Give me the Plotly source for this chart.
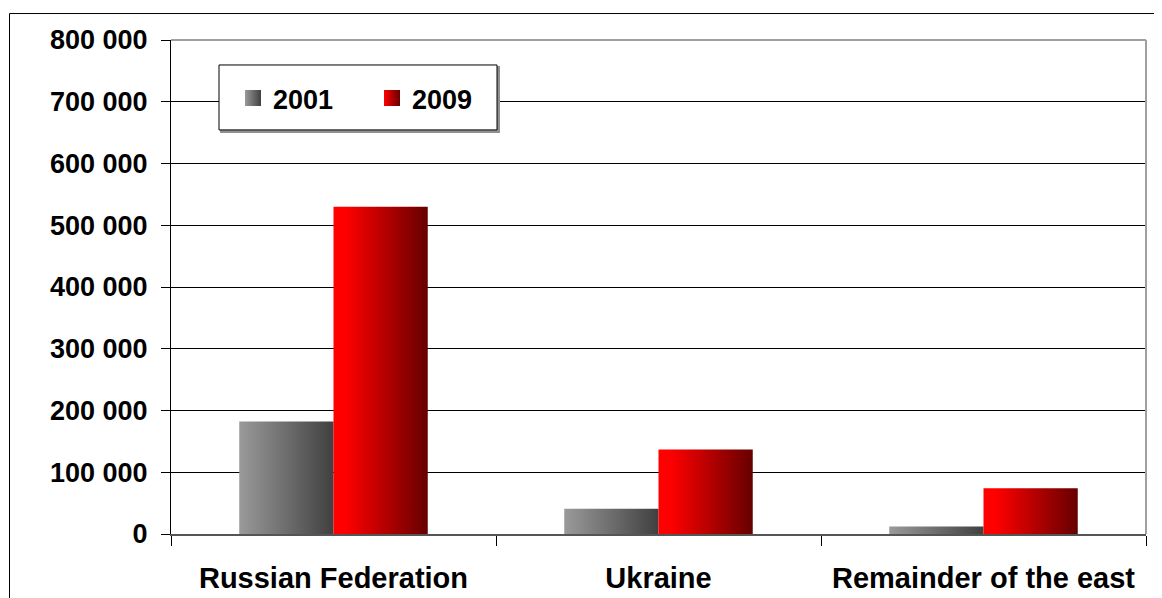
import plotly.graph_objects as go

categories = ["Russian Federation", "Ukraine", "Remainder of the east"]
series_names = ["2001", "2009"]
values_2001 = [182000, 41000, 12000]
values_2009 = [530000, 137000, 74000]
y_ticks = [0, 100000, 200000, 300000, 400000, 500000, 600000, 700000, 800000]

FONT = "Liberation Sans, Arial, sans-serif"
BAR_GAP = 0.42
bar_w = (1 - BAR_GAP) / 2

series = [
    (values_2001, "#9a9a9a", "#404040",
     [[0, "#9a9a9a"], [1, "#404040"]], -1),
    (values_2009, "#ff0000", "#660000",
     [[0, "#ff0000"], [0.12, "#ff0000"], [1, "#660000"]], 0),
]

fig = go.Figure()
for (vals, c0, c1, cs, off), name in zip(series, series_names):
    for i, v in enumerate(vals):
        left = i + off * bar_w
        right = left + bar_w
        fig.add_trace(go.Scatter(
            x=[left, left, right, right, left],
            y=[0, v, v, 0, 0],
            mode="lines", fill="toself",
            line=dict(width=0),
            fillgradient=dict(type="horizontal", colorscale=cs, start=left, stop=right),
            showlegend=False, hoverinfo="skip", name=name,
        ))
    fig.add_trace(go.Scatter(
        x=[None], y=[None], mode="markers", name=name,
        marker=dict(symbol="square", size=19, color=c0,
                    gradient=dict(type="horizontal", color=c1),
                    line=dict(width=0)),
    ))

# page body has an 8px margin; work in window pixels and convert
OFF = 8
W, H = 1162 - OFF, 598 - OFF
PL, PR, PT, PB = 171, 1146, 40, 534.5  # plot area in window px
L = PL - OFF
T = PT - OFF
R = W - (PR - OFF)
B = H - (PB - OFF)
pw, ph = W - L - R, H - T - B

def px_x(x):
    return (x - PL) / pw

def px_y(y):
    return (PB - y) / ph

fig.update_layout(
    width=W, height=H,
    margin=dict(l=L, r=R, t=T, b=B, pad=0, autoexpand=False),
    paper_bgcolor="white", plot_bgcolor="white",
    separators=". ",
    font=dict(family=FONT, color="black"),
    showlegend=True,
    legend=dict(
        orientation="h", x=px_x(233), y=px_y(74), xanchor="left", yanchor="top",
        bgcolor="rgba(0,0,0,0)", borderwidth=0,
        font=dict(family=FONT, size=27, color="black", weight="bold"),
        entrywidth=94,
    ),
    xaxis=dict(
        range=[-0.5, 2.5], automargin=False,
        tickmode="array", tickvals=[0, 1, 2], ticktext=categories,
        ticks="", showgrid=False, zeroline=False,
        showline=True, linecolor="#555555", linewidth=2,
        tickfont=dict(family=FONT, size=29, color="black", weight="bold"),
        ticklabelstandoff=17,
        minor=dict(tickmode="array", tickvals=[-0.5, 0.5, 1.5, 2.5],
                   ticks="outside", ticklen=10, tickcolor="black", tickwidth=1,
                   showgrid=False),
        fixedrange=True,
    ),
    yaxis=dict(
        range=[0, 800000], automargin=False,
        tickmode="array", tickvals=y_ticks,
        tickformat=",d",
        ticks="outside", ticklen=9, tickcolor="black", tickwidth=1,
        showgrid=True, gridcolor="black", gridwidth=1,
        zeroline=False,
        showline=True, linecolor="black", linewidth=1,
        tickfont=dict(family=FONT, size=27, color="black", weight="bold"),
        ticklabelstandoff=8,
        fixedrange=True,
    ),
    shapes=[
        dict(type="line", xref="paper", yref="paper", x0=0, x1=1, y0=1, y1=1,
             line=dict(color="#a0a0a0", width=2), layer="above"),
        dict(type="line", xref="paper", yref="paper", x0=1, x1=1, y0=0, y1=1,
             line=dict(color="#a0a0a0", width=2), layer="above"),
        dict(type="rect", xref="paper", yref="paper",
             x0=px_x(9.5), x1=px_x(1175), y0=px_y(620), y1=px_y(13.5),
             line=dict(color="black", width=1), layer="above"),
        # legend frame with its shadow
        dict(type="rect", xref="paper", yref="paper",
             x0=px_x(221), x1=px_x(499), y0=px_y(132), y1=px_y(67),
             line=dict(color="#909090", width=2), fillcolor="#909090", layer="above"),
        dict(type="rect", xref="paper", yref="paper",
             x0=px_x(219), x1=px_x(497), y0=px_y(130), y1=px_y(65),
             line=dict(color="black", width=1), fillcolor="white", layer="above"),
    ],
)

fig.write_html("out.html")
